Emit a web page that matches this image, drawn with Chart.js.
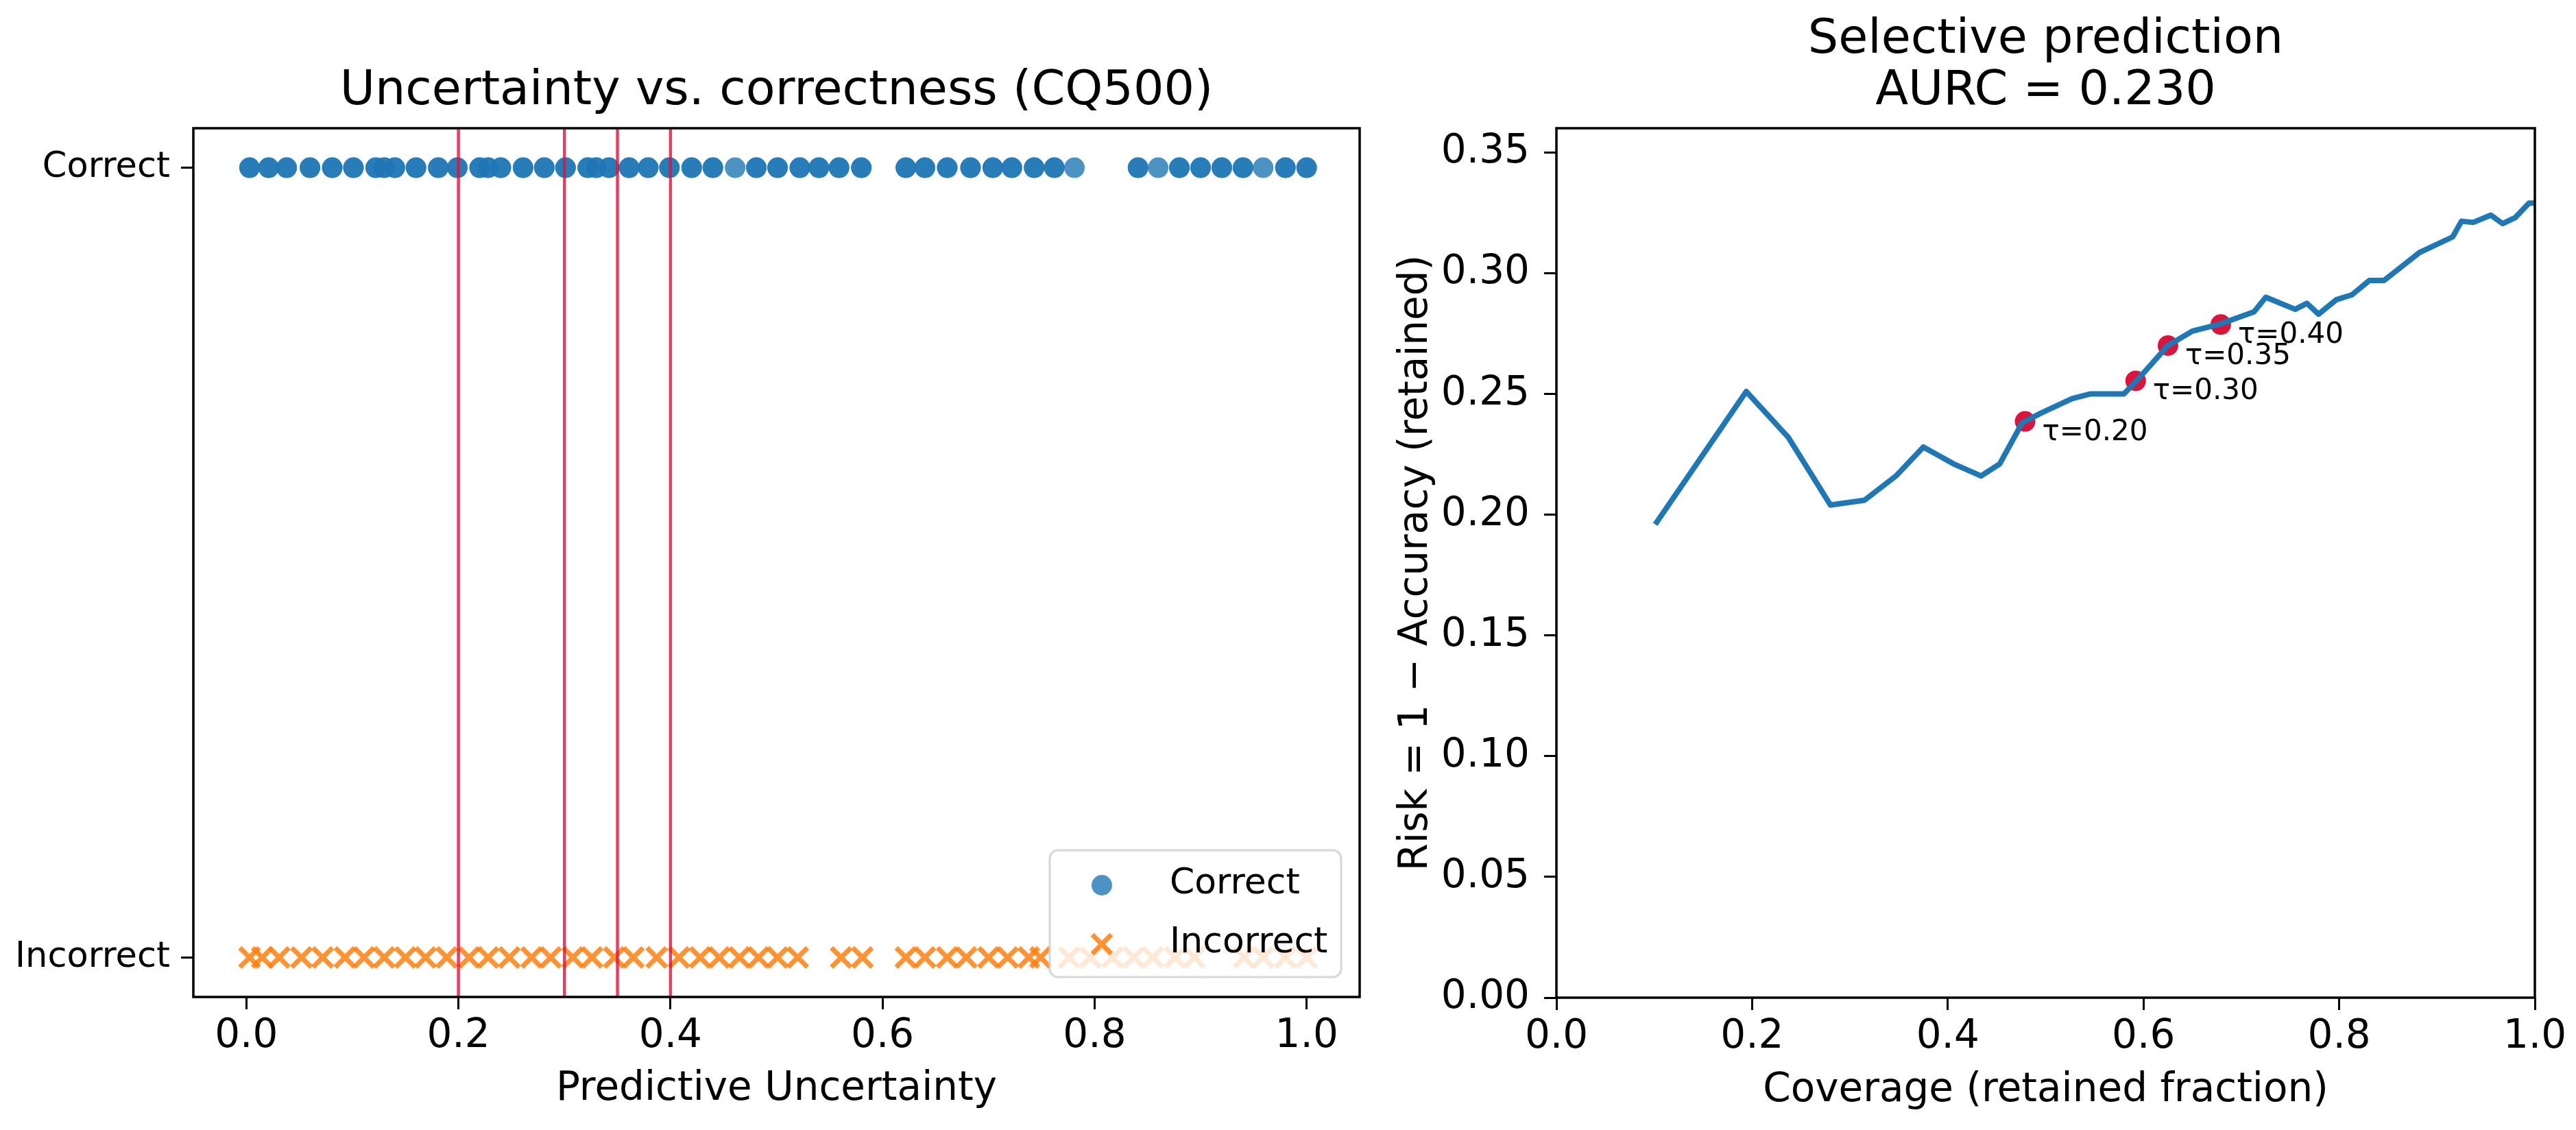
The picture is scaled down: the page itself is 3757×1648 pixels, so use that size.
<!DOCTYPE html>
<html>
<head>
<meta charset="utf-8">
<script src="https://cdn.jsdelivr.net/npm/chart.js@4.4.1/dist/chart.umd.min.js"></script>
<style>
html, body { margin: 0; padding: 0; background: #fff; }
body { width: 3757px; height: 1648px; position: relative; overflow: hidden; }
canvas { position: absolute; top: 0; }
#uncertainty { left: 0; }
#selective { left: 2000px; }
</style>
</head>
<body>
<canvas id="uncertainty" width="2010" height="1648"></canvas>
<canvas id="selective" width="1757" height="1648"></canvas>
<script>
// ---------------- data ----------------
var leftTitle = "Uncertainty vs. correctness (CQ500)";
var leftXTitle = "Predictive Uncertainty";
var leftXTicks = [0, 0.2, 0.4, 0.6, 0.8, 1.0];
var leftYTicks = [0, 1];
var leftYLabels = ["Incorrect", "Correct"];
var legendLabels = ["Correct", "Incorrect"];
var thresholds = [0.2, 0.3, 0.35, 0.4];

// uncertainty of correct cases (y = 1); correctN = how many dots overlap there
var correctX = [0.003, 0.021, 0.038, 0.060, 0.081, 0.101, 0.122, 0.130, 0.140, 0.160,
                0.181, 0.199, 0.220, 0.228, 0.240, 0.261, 0.281, 0.301, 0.322, 0.330,
                0.342, 0.361, 0.379, 0.399, 0.420, 0.440, 0.461, 0.481, 0.501, 0.522,
                0.540, 0.559, 0.580, 0.622, 0.640, 0.661, 0.683, 0.704, 0.722, 0.743,
                0.762, 0.781, 0.841, 0.860, 0.880, 0.900, 0.920, 0.940, 0.959, 0.980, 1.000];
var correctN = [2, 2, 2, 2, 2, 2, 2, 2, 2, 2,
                2, 2, 2, 2, 2, 2, 2, 2, 2, 2,
                2, 2, 2, 2, 2, 2, 1, 2, 2, 2,
                2, 2, 2, 2, 2, 2, 2, 2, 2, 2,
                2, 1, 2, 1, 2, 2, 2, 2, 1, 2, 2];

// uncertainty of incorrect cases (y = 0)
var incorrectX = [0.003, 0.015, 0.031, 0.052, 0.072, 0.093, 0.111, 0.130, 0.150, 0.169,
                  0.189, 0.210, 0.228, 0.248, 0.269, 0.287, 0.308, 0.326, 0.347, 0.365,
                  0.387, 0.408, 0.428, 0.446, 0.465, 0.483, 0.501, 0.520, 0.561, 0.581,
                  0.622, 0.640, 0.661, 0.679, 0.700, 0.718, 0.738, 0.749, 0.776, 0.796,
                  0.817, 0.837, 0.855, 0.876, 0.894, 0.941, 0.959, 0.980, 1.000];

var rightTitle = ["Selective prediction", "AURC = 0.230"];
var rightXTitle = "Coverage (retained fraction)";
var rightYTitle = "Risk = 1 \u2212 Accuracy (retained)";
var rightXTicks = [0, 0.2, 0.4, 0.6, 0.8, 1.0];
var rightYTicks = [0, 0.05, 0.10, 0.15, 0.20, 0.25, 0.30, 0.35];

var coverage = [0.101, 0.194, 0.237, 0.280, 0.315, 0.347, 0.375, 0.406, 0.434, 0.453,
                0.476, 0.495, 0.527, 0.546, 0.580, 0.592, 0.625, 0.650, 0.679, 0.713,
                0.725, 0.755, 0.767, 0.779, 0.797, 0.813, 0.831, 0.846, 0.882, 0.916,
                0.925, 0.937, 0.955, 0.967, 0.980, 0.994, 1.000];
var risk = [0.196, 0.251, 0.232, 0.204, 0.206, 0.216, 0.228, 0.221, 0.216, 0.221,
            0.238, 0.242, 0.248, 0.250, 0.250, 0.255, 0.270, 0.276, 0.279, 0.284,
            0.290, 0.285, 0.2875, 0.283, 0.289, 0.291, 0.297, 0.297, 0.3085, 0.315,
            0.3215, 0.321, 0.324, 0.3205, 0.323, 0.329, 0.329];

var tauCoverage = [0.479, 0.592, 0.625, 0.679];
var tauRisk = [0.2386, 0.2554, 0.270, 0.2787];
var tauLabels = ["\u03c4=0.20", "\u03c4=0.30", "\u03c4=0.35", "\u03c4=0.40"];

// ---------------- shared look ----------------
Chart.defaults.font.family = "'DejaVu Sans', sans-serif";
Chart.defaults.color = "#000";

var BLUE = "rgba(31,119,180,0.8)";
var ORANGE = "rgba(255,127,14,0.85)";
var CRIMSON = "rgb(220,20,60)";

function tickGrid() {
    return { drawOnChartArea: false, drawTicks: true, tickLength: 18, tickWidth: 3, tickColor: "#000" };
}

function drawFrame(chart) {
    var a = chart.chartArea, c = chart.ctx;
    c.save();
    c.strokeStyle = "#000";
    c.lineWidth = 3.5;
    c.strokeRect(a.left, a.top, a.right - a.left, a.bottom - a.top);
    c.restore();
}

//=============================================== START UNCERTAINTY ========================================
var correctPts = [];
correctX.forEach(function (x, i) {
    for (var k = 0; k < correctN[i]; k++) correctPts.push({ x: x, y: 1 });
});
var incorrectPts = incorrectX.map(function (x) { return { x: x, y: 0 }; });

var thresholdSets = thresholds.map(function (t) {
    return {
        type: 'line',
        data: [{ x: t, y: -0.05 }, { x: t, y: 1.05 }],
        showLine: true,
        borderColor: "rgba(220,20,60,0.8)",
        borderWidth: 4.5,
        pointRadius: 0,
        order: 0
    };
});

var frameLegend = {
    id: 'frameLegend',
    afterDatasetsDraw: function (chart) {
        drawFrame(chart);
    },
    afterDraw: function (chart) {
        var a = chart.chartArea, c = chart.ctx;
        var w = 425, h = 185;
        var x0 = a.right - 27 - w, y0 = a.bottom - 29 - h;
        c.save();
        c.beginPath();
        c.roundRect(x0, y0, w, h, 12);
        c.fillStyle = "rgba(255,255,255,0.8)";
        c.fill();
        c.strokeStyle = "rgba(204,204,204,0.8)";
        c.lineWidth = 3;
        c.stroke();

        // Correct marker
        c.beginPath();
        c.arc(x0 + 76, y0 + 51, 15, 0, Math.PI * 2);
        c.fillStyle = BLUE;
        c.fill();
        // Incorrect marker
        c.beginPath();
        c.moveTo(x0 + 76 - 14, y0 + 137 - 14); c.lineTo(x0 + 76 + 14, y0 + 137 + 14);
        c.moveTo(x0 + 76 - 14, y0 + 137 + 14); c.lineTo(x0 + 76 + 14, y0 + 137 - 14);
        c.strokeStyle = ORANGE;
        c.lineWidth = 7;
        c.stroke();

        c.fillStyle = "#000";
        c.font = "52px 'DejaVu Sans'";
        c.textBaseline = "middle";
        c.textAlign = "left";
        c.fillText(legendLabels[0], x0 + 175, y0 + 49);
        c.fillText(legendLabels[1], x0 + 175, y0 + 135);
        c.restore();
    }
};

var uncertainty = new Chart(document.getElementById("uncertainty"), {
    type: 'scatter',
    data: {
        datasets: thresholdSets.concat([
            {
                label: legendLabels[0],
                data: correctPts,
                pointStyle: 'circle',
                pointRadius: 15,
                pointBorderWidth: 0,
                backgroundColor: BLUE,
                borderColor: BLUE,
                order: 2
            },
            {
                label: legendLabels[1],
                data: incorrectPts,
                pointStyle: 'crossRot',
                pointRadius: 20,
                pointBorderWidth: 7,
                backgroundColor: ORANGE,
                borderColor: ORANGE,
                order: 1
            }
        ])
    },
    options: {
        responsive: false,
        animation: false,
        devicePixelRatio: 1,
        events: [],
        layout: { padding: { left: 0, right: 13, top: 0, bottom: 0 } },
        plugins: {
            legend: { display: false },
            tooltip: { enabled: false },
            title: {
                display: true,
                fullSize: false,
                text: leftTitle,
                color: "#000",
                font: { size: 70, weight: 'normal', lineHeight: 75 / 70 },
                padding: { top: 96.5, bottom: 15.5 }
            }
        },
        scales: {
            x: {
                type: 'linear',
                min: -0.05,
                max: 1.05,
                afterBuildTicks: function (s) { s.ticks = leftXTicks.map(function (v) { return { value: v }; }); },
                afterFit: function (s) { s.height = 194; s.paddingLeft = 0; s.paddingRight = 0; },
                ticks: {
                    font: { size: 58 }, padding: 5, maxRotation: 0, minRotation: 0, autoSkip: false,
                    callback: function (v) { return Number(v).toFixed(1); }
                },
                grid: tickGrid(),
                border: { display: false },
                title: { display: true, text: leftXTitle, font: { size: 58 }, padding: { top: 0, bottom: 24 } }
            },
            y: {
                type: 'linear',
                min: -0.05,
                max: 1.05,
                afterBuildTicks: function (s) { s.ticks = leftYTicks.map(function (v) { return { value: v }; }); },
                afterFit: function (s) { s.width = 282; },
                ticks: {
                    font: { size: 51 }, padding: 16, autoSkip: false,
                    callback: function (v) { return leftYLabels[leftYTicks.indexOf(v)]; }
                },
                grid: tickGrid(),
                border: { display: false }
            }
        }
    },
    plugins: [frameLegend]
});
//=============================================== END UNCERTAINTY ========================================


//=============================================== START SELECTIVE ========================================
var frameTau = {
    id: 'frameTau',
    afterDatasetsDraw: function (chart) {
        drawFrame(chart);
        var c = chart.ctx;
        var meta = chart.getDatasetMeta(1);
        c.save();
        c.fillStyle = "#000";
        c.font = "42px 'DejaVu Sans'";
        c.textAlign = "left";
        c.textBaseline = "alphabetic";
        meta.data.forEach(function (p, i) {
            c.fillText(tauLabels[i], p.x + 25, p.y + 27);
        });
        c.restore();
    }
};

var selective = new Chart(document.getElementById("selective"), {
    type: 'scatter',
    data: {
        datasets: [
            {
                type: 'line',
                label: 'risk',
                data: coverage.map(function (x, i) { return { x: x, y: risk[i] }; }),
                showLine: true,
                borderColor: "#1f77b4",
                borderWidth: 8,
                borderJoinStyle: 'round',
                tension: 0,
                pointRadius: 0,
                order: 0
            },
            {
                label: 'tau',
                data: tauCoverage.map(function (x, i) { return { x: x, y: tauRisk[i] }; }),
                pointStyle: 'circle',
                pointRadius: 15,
                pointBorderWidth: 0,
                backgroundColor: CRIMSON,
                borderColor: CRIMSON,
                order: 1
            }
        ]
    },
    options: {
        responsive: false,
        animation: false,
        devicePixelRatio: 1,
        events: [],
        layout: { padding: { left: 0, right: 60, top: 0, bottom: 0 } },
        plugins: {
            legend: { display: false },
            tooltip: { enabled: false },
            title: {
                display: true,
                fullSize: false,
                text: rightTitle,
                color: "#000",
                font: { size: 70, weight: 'normal', lineHeight: 75 / 70 },
                padding: { top: 21.5, bottom: 15.5 }
            }
        },
        scales: {
            x: {
                type: 'linear',
                min: 0,
                max: 1,
                afterBuildTicks: function (s) { s.ticks = rightXTicks.map(function (v) { return { value: v }; }); },
                afterFit: function (s) { s.height = 193; s.paddingLeft = 0; s.paddingRight = 0; },
                ticks: {
                    font: { size: 58 }, padding: 5, maxRotation: 0, minRotation: 0, autoSkip: false,
                    callback: function (v) { return Number(v).toFixed(1); }
                },
                grid: tickGrid(),
                border: { display: false },
                title: { display: true, text: rightXTitle, font: { size: 58 }, padding: { top: 0, bottom: 22 } }
            },
            y: {
                type: 'linear',
                min: 0,
                max: 0.36,
                afterBuildTicks: function (s) { s.ticks = rightYTicks.map(function (v) { return { value: v }; }); },
                afterFit: function (s) { s.width = 270; },
                ticks: {
                    font: { size: 58 }, padding: 21, autoSkip: false,
                    callback: function (v) { return Number(v).toFixed(2); }
                },
                grid: tickGrid(),
                border: { display: false },
                title: { display: true, text: rightYTitle, font: { size: 58 }, padding: { top: 31, bottom: 0 } }
            }
        }
    },
    plugins: [frameTau]
});
//=============================================== END SELECTIVE ========================================
</script>
</body>
</html>
